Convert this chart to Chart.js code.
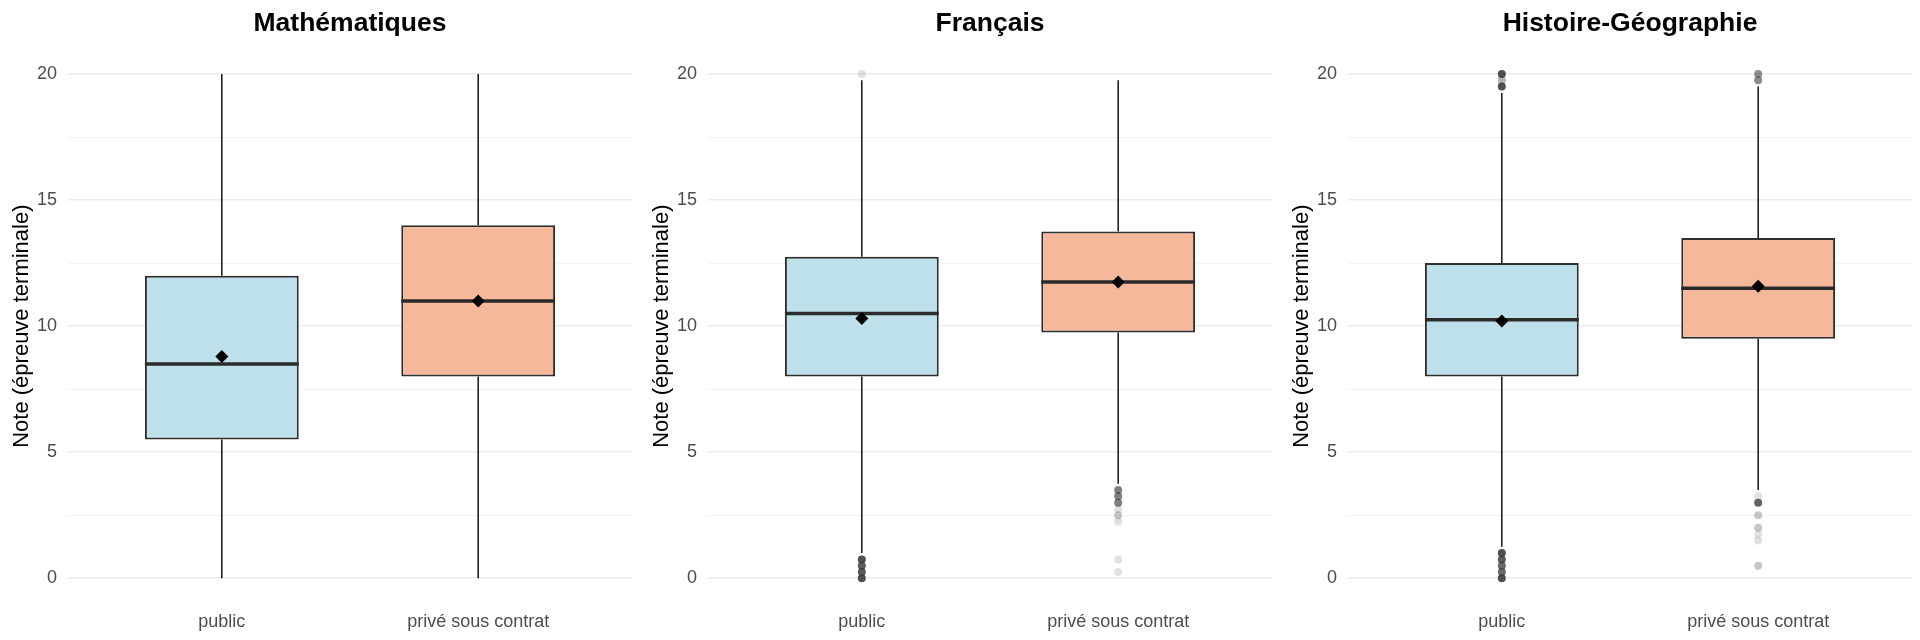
<!DOCTYPE html>
<html lang="fr">
<head>
<meta charset="utf-8">
<title>Notes par secteur</title>
<script src="https://cdn.jsdelivr.net/npm/chart.js@4"></script>
<style>
  body { margin: 0; background: #ffffff; }
  .panneaux { display: flex; width: 1920px; height: 640px; }
  .panneau { width: 640px; height: 640px; }
</style>
</head>
<body>
<div class="panneaux">
  <div class="panneau"><canvas id="graphe-maths" width="640" height="640"></canvas></div>
  <div class="panneau"><canvas id="graphe-francais" width="640" height="640"></canvas></div>
  <div class="panneau"><canvas id="graphe-histoire" width="640" height="640"></canvas></div>
</div>
<script>
// Données : [public, privé sous contrat]
const secteurs = ["public", "privé sous contrat"];
const ticksMajeurs = [0, 5, 10, 15, 20];
const ticksMineurs = [2.5, 7.5, 12.5, 17.5];

const mathsMin = [0, 0];
const mathsQ1 = [5.5, 8];
const mathsMediane = [8.5, 11];
const mathsQ3 = [12, 14];
const mathsMax = [20, 20];
const mathsMoyenne = [8.8, 11.0];
const mathsAtypiques = [[], []];
const mathsEffectifs = [[], []];

const francaisMin = [1, 3.75];
const francaisQ1 = [8, 9.75];
const francaisMediane = [10.5, 11.75];
const francaisQ3 = [12.75, 13.75];
const francaisMax = [19.75, 19.75];
const francaisMoyenne = [10.3, 11.75];
const francaisAtypiques = [[0, 0.25, 0.5, 0.75, 20], [0.25, 0.75, 2.25, 2.5, 2.75, 3, 3.25, 3.5]];
const francaisEffectifs = [[12, 10, 10, 12, 1], [1, 1, 1, 2, 1, 6, 6, 6]];

const histoireMin = [1.25, 3.5];
const histoireQ1 = [8, 9.5];
const histoireMediane = [10.25, 11.5];
const histoireQ3 = [12.5, 13.5];
const histoireMax = [19.25, 19.5];
const histoireMoyenne = [10.2, 11.58];
const histoireAtypiques = [[0, 0.25, 0.5, 0.75, 1, 19.5, 19.75, 20], [0.5, 1.5, 1.75, 2, 2.5, 3, 3.25, 19.75, 20]];
const histoireEffectifs = [[12, 8, 8, 10, 12, 12, 3, 12], [2, 1, 1, 2, 2, 9, 1, 5, 5]];

const largeurBoite = 0.6;
const couleursBoites = ["#bde0ea", "#f6b89b"];

Chart.defaults.font.family = "'Liberation Sans', Arial, Helvetica, sans-serif";

function creerGraphe(idCanvas, titre, bas, q1, mediane, q3, haut, moyenne, atypiques, effectifs) {
    // segments des moustaches et des médianes, séparés par des trous
    const moustaches = [];
    const medianes = [];
    const points = [];
    secteurs.forEach((s, i) => {
        const x = i + 1;
        moustaches.push({x: x, y: bas[i]}, {x: x, y: q1[i]}, {x: x, y: null});
        moustaches.push({x: x, y: q3[i]}, {x: x, y: haut[i]}, {x: x, y: null});
        medianes.push({x: x - largeurBoite / 2, y: mediane[i]}, {x: x + largeurBoite / 2, y: mediane[i]}, {x: x, y: null});
        atypiques[i].forEach((v, j) => points.push({x: x, y: v, n: effectifs[i][j]}));
    });

    return new Chart(document.getElementById(idCanvas), {
        type: 'bar',
        data: {
            datasets: [
                {
                    type: 'line',
                    data: moustaches,
                    borderColor: '#000000',
                    borderWidth: 1.4,
                    pointRadius: 0,
                    spanGaps: false,
                    order: 4
                },
                {
                    type: 'bar',
                    data: secteurs.map((s, i) => ({x: i + 1, y: [q1[i], q3[i]]})),
                    backgroundColor: couleursBoites,
                    borderColor: '#2e2e2e',
                    borderWidth: 2,
                    borderSkipped: false,
                    barPercentage: largeurBoite,
                    categoryPercentage: 1,
                    order: 3
                },
                {
                    type: 'line',
                    data: medianes,
                    borderColor: '#2b2b2b',
                    borderWidth: 3.5,
                    pointRadius: 0,
                    spanGaps: false,
                    order: 2
                },
                {
                    type: 'scatter',
                    data: points,
                    pointRadius: 4,
                    pointBorderWidth: 0,
                    pointBackgroundColor: ctx => {
                        const a = 1 - Math.pow(0.85, ctx.raw ? ctx.raw.n : 1);
                        return `rgba(51,51,51,${a.toFixed(3)})`;
                    },
                    order: 1
                },
                {
                    type: 'scatter',
                    data: secteurs.map((s, i) => ({x: i + 1, y: moyenne[i]})),
                    pointStyle: 'rectRot',
                    pointRadius: 6.5,
                    pointBorderWidth: 0,
                    pointBackgroundColor: '#000000',
                    order: 0
                }
            ]
        },
        options: {
            responsive: false,
            animation: false,
            layout: { padding: { left: 0, right: 8, top: 0, bottom: 0 } },
            plugins: {
                legend: { display: false },
                tooltip: { enabled: false },
                title: {
                    display: true,
                    text: titre,
                    fullSize: false,
                    color: '#000000',
                    font: { size: 26.5, weight: 'bold' },
                    padding: { top: 7.5, bottom: 9.5 }
                }
            },
            scales: {
                x: {
                    type: 'linear',
                    min: 0.4,
                    max: 2.6,
                    offset: false,
                    grid: { display: false, offset: false },
                    border: { display: false },
                    afterBuildTicks: scale => { scale.ticks = secteurs.map((s, i) => ({value: i + 1})); },
                    afterFit: scale => { scale.height = 36.5; },
                    ticks: {
                        autoSkip: false,
                        maxRotation: 0,
                        padding: 0,
                        color: '#4d4d4d',
                        font: { size: 18 },
                        callback: v => secteurs[v - 1]
                    }
                },
                y: {
                    min: -1,
                    max: 21,
                    border: { display: false },
                    grid: {
                        drawTicks: false,
                        color: ctx => ticksMajeurs.includes(ctx.tick.value) ? '#ebebeb' : '#f3f3f3',
                        lineWidth: ctx => ticksMajeurs.includes(ctx.tick.value) ? 1.6 : 1
                    },
                    afterBuildTicks: scale => {
                        scale.ticks = ticksMajeurs.concat(ticksMineurs).sort((a, b) => a - b).map(v => ({value: v}));
                    },
                    afterFit: scale => { scale.width = 68; },
                    ticks: {
                        autoSkip: false,
                        padding: 11,
                        color: '#4d4d4d',
                        font: { size: 18 },
                        callback: v => ticksMajeurs.includes(v) ? String(v) : ''
                    },
                    title: {
                        display: true,
                        text: 'Note (épreuve terminale)',
                        color: '#000000',
                        font: { size: 22 },
                        padding: { top: 9, bottom: 0 }
                    }
                }
            }
        }
    });
}

creerGraphe('graphe-maths', 'Mathématiques', mathsMin, mathsQ1, mathsMediane, mathsQ3, mathsMax, mathsMoyenne, mathsAtypiques, mathsEffectifs);
creerGraphe('graphe-francais', 'Français', francaisMin, francaisQ1, francaisMediane, francaisQ3, francaisMax, francaisMoyenne, francaisAtypiques, francaisEffectifs);
creerGraphe('graphe-histoire', 'Histoire-Géographie', histoireMin, histoireQ1, histoireMediane, histoireQ3, histoireMax, histoireMoyenne, histoireAtypiques, histoireEffectifs);
</script>
</body>
</html>
